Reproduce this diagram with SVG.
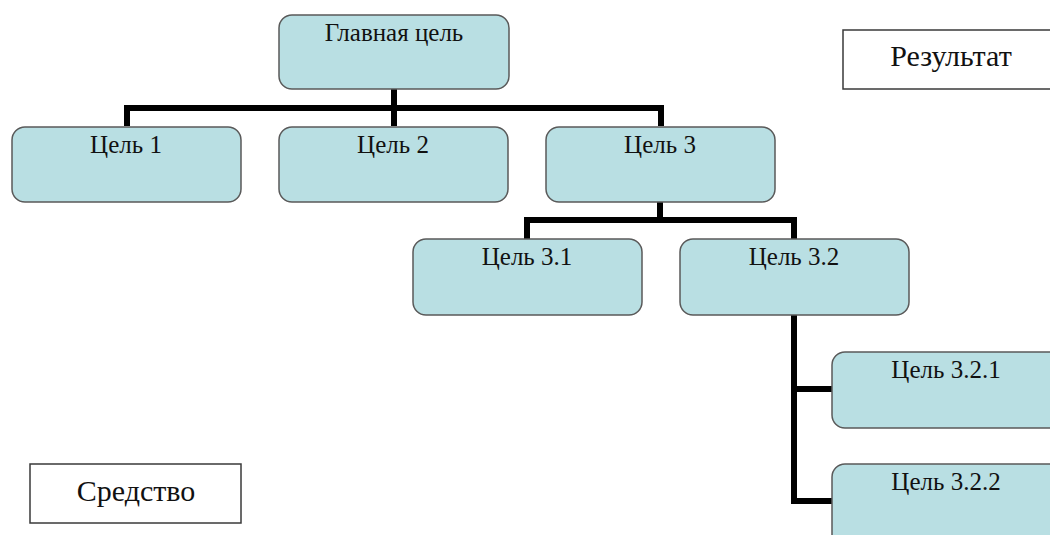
<svg xmlns="http://www.w3.org/2000/svg" width="1050" height="535" viewBox="0 0 1050 535">
  <style>
    .goal { fill: #b9dfe3; stroke: #5a5a5a; stroke-width: 1.5; }
    .plain { fill: #ffffff; stroke: #3a3a3a; stroke-width: 1.5; }
    .lbl { font-family: "Liberation Serif", "Times New Roman", serif; font-size: 25px; fill: #111111; text-anchor: middle; }
    .big { font-size: 30px; }
    .wire { fill: none; stroke: #000000; stroke-width: 6; stroke-linejoin: miter; stroke-linecap: butt; }
  </style>
  <rect width="1050" height="535" fill="#ffffff"/>

  <g id="connectors">
    <path class="wire" d="M394,89 V108 M127,126 V108 H661 V126 M394,108 V126"/>
    <path class="wire" d="M660,202 V220 M527,239 V220 H794 V239"/>
    <path class="wire" d="M794,315 V501 H832 M794,389 H832"/>
  </g>

  <g id="main-goal">
    <rect class="goal" x="279" y="15" width="230" height="74" rx="13"/>
    <text class="lbl" x="394" y="41">Главная цель</text>
  </g>
  <g id="goal-1">
    <rect class="goal" x="12" y="127" width="229" height="75" rx="13"/>
    <text class="lbl" x="126" y="153">Цель 1</text>
  </g>
  <g id="goal-2">
    <rect class="goal" x="279" y="127" width="229" height="75" rx="13"/>
    <text class="lbl" x="393" y="153">Цель 2</text>
  </g>
  <g id="goal-3">
    <rect class="goal" x="546" y="127" width="229" height="75" rx="13"/>
    <text class="lbl" x="660" y="153">Цель 3</text>
  </g>
  <g id="goal-3-1">
    <rect class="goal" x="413" y="239" width="229" height="76" rx="13"/>
    <text class="lbl" x="527" y="265">Цель 3.1</text>
  </g>
  <g id="goal-3-2">
    <rect class="goal" x="680" y="239" width="229" height="76" rx="13"/>
    <text class="lbl" x="794" y="265">Цель 3.2</text>
  </g>
  <g id="goal-3-2-1">
    <rect class="goal" x="832" y="352" width="240" height="76" rx="13"/>
    <text class="lbl" x="946" y="378">Цель 3.2.1</text>
  </g>
  <g id="goal-3-2-2">
    <rect class="goal" x="832" y="464" width="240" height="90" rx="13"/>
    <text class="lbl" x="946" y="490">Цель 3.2.2</text>
  </g>

  <g id="result">
    <rect class="plain" x="843" y="30" width="220" height="59"/>
    <text class="lbl big" x="951" y="66">Результат</text>
  </g>
  <g id="means">
    <rect class="plain" x="30" y="464" width="211" height="59"/>
    <text class="lbl big" x="136" y="501">Средство</text>
  </g>
</svg>
